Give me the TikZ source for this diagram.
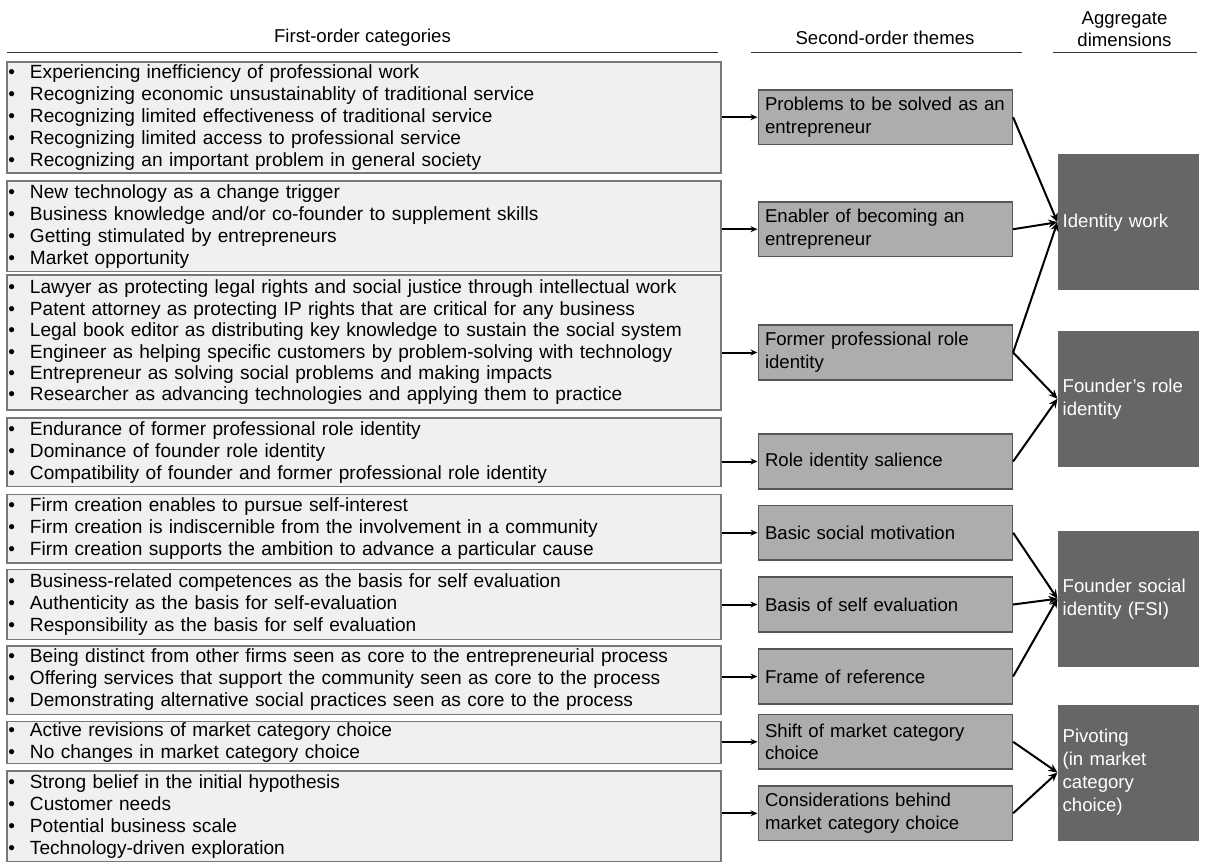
\documentclass[tikz,border=0pt]{standalone}
\usepackage{fontspec}
\setmainfont{Liberation Sans}
\usetikzlibrary{arrows.meta,positioning}
\definecolor{boxlight}{RGB}{240,240,240}
\definecolor{boxmid}{RGB}{173,173,173}
\definecolor{boxdark}{RGB}{102,102,102}
\definecolor{edgegray}{RGB}{120,120,120}
\definecolor{edgedark}{RGB}{85,85,85}
\newcommand{\itm}{\makebox[21.5pt][l]{\textbullet}}

\begin{document}
\begin{tikzpicture}[x=1pt,y=-1pt,
    firstbox/.style={draw=edgegray, line width=1.6pt, fill=boxlight, text width=711pt, inner xsep=1.5pt, inner ysep=0pt, align=left, font=\fontsize{19.1}{22}\selectfont},
    themebox/.style={draw=edgedark, line width=1.6pt, fill=boxmid, minimum height=54.5pt, text width=240.6pt, inner xsep=6.7pt, inner ysep=0pt, align=left, font=\fontsize{18.6}{22.7}\selectfont},
    dimbox/.style={fill=boxdark, text=white, minimum height=136pt, text width=131.3pt, inner xsep=5pt, inner ysep=0pt, align=left, font=\fontsize{18.6}{23}\selectfont},
    header/.style={align=center, font=\fontsize{18.6}{22}\selectfont},
    rule/.style={line width=1.6pt, draw=black!80},
    feed/.style={line width=2pt, -{Stealth[length=7pt,width=6pt]}},
    merge/.style={line width=2pt, -{Stealth[length=9pt,width=8pt]}}]
    \useasboundingbox (0,0) rectangle (1221,863);

    % Headers
    \node[header] (hfirst) at (362.5,38) {First-order categories};
    \node[header] (hsecond) at (885,38) {Second-order themes};
    \node[header] (hagg) at (1124.5,29) {Aggregate\\dimensions};
    \draw[rule] (7,52.5) -- (718,52.5);
    \draw[rule] (751,52.5) -- (1021.5,52.5);
    \draw[rule] (1053,52.5) -- (1197,52.5);

    % First-order categories
    \node[firstbox, minimum height=111pt] (fo1) at (364,117.2) {\itm Experiencing inefficiency of professional work\\ \itm Recognizing economic unsustainablity of traditional service\\ \itm Recognizing limited effectiveness of traditional service\\ \itm Recognizing limited access to professional service\\ \itm Recognizing an important problem in general society};
    \node[firstbox, minimum height=90.7pt] (fo2) at (364,226.3) {\itm New technology as a change trigger\\ \itm Business knowledge and/or co-founder to supplement skills\\ \itm Getting stimulated by entrepreneurs\\ \itm Market opportunity};
    \node[firstbox, minimum height=135pt, font=\fontsize{19.1}{21.4}\selectfont] (fo3) at (364,342.5) {\itm Lawyer as protecting legal rights and social justice through intellectual work\\ \itm Patent attorney as protecting IP rights that are critical for any business\\ \itm Legal book editor as distributing key knowledge to sustain the social system\\ \itm Engineer as helping specific customers by problem-solving with technology\\ \itm Entrepreneur as solving social problems and making impacts\\ \itm Researcher as advancing technologies and applying them to practice};
    \node[firstbox, minimum height=68.7pt] (fo4) at (364,452.3) {\itm Endurance of former professional role identity\\ \itm Dominance of founder role identity\\ \itm Compatibility of founder and former professional role identity};
    \node[firstbox, minimum height=68.4pt] (fo5) at (364,528.5) {\itm Firm creation enables to pursue self-interest\\ \itm Firm creation is indiscernible from the involvement in a community\\ \itm Firm creation supports the ambition to advance a particular cause};
    \node[firstbox, minimum height=70pt] (fo6) at (364,604.3) {\itm Business-related competences as the basis for self evaluation\\ \itm Authenticity as the basis for self-evaluation\\ \itm Responsibility as the basis for self evaluation};
    \node[firstbox, minimum height=68.6pt] (fo7) at (364,680) {\itm Being distinct from other firms seen as core to the entrepreneurial process\\ \itm Offering services that support the community seen as core to the process\\ \itm Demonstrating alternative social practices seen as core to the process};
    \node[firstbox, minimum height=42pt] (fo8) at (364,742.3) {\itm Active revisions of market category choice\\ \itm No changes in market category choice};
    \node[firstbox, minimum height=90.7pt] (fo9) at (364,816.3) {\itm Strong belief in the initial hypothesis\\ \itm Customer needs\\ \itm Potential business scale\\ \itm Technology-driven exploration};

    % Second-order themes
    \node[themebox] (so1) at (885.3,117.2) {Problems to be solved as an\\entrepreneur};
    \node[themebox] (so2) at (885.3,229.2) {Enabler of becoming an\\entrepreneur};
    \node[themebox] (so3) at (885.3,352.5) {Former professional role\\identity};
    \node[themebox] (so4) at (885.3,461.5) {Role identity salience};
    \node[themebox] (so5) at (885.3,532.7) {Basic social motivation};
    \node[themebox] (so6) at (885.3,604.5) {Basis of self evaluation};
    \node[themebox] (so7) at (885.3,676.5) {Frame of reference};
    \node[themebox] (so8) at (885.3,741.8) {Shift of market category\\choice};
    \node[themebox] (so9) at (885.3,813.3) {Considerations behind\\market category choice};

    % Aggregate dimensions
    \node[dimbox] (ag1) at (1128.3,222.2) {Identity work};
    \node[dimbox] (ag2) at (1128.3,398.7) {Founder’s role\\identity};
    \node[dimbox] (ag3) at (1128.3,598.7) {Founder social\\identity (FSI)};
    \node[dimbox] (ag4) at (1128.3,772.5) {Pivoting\\(in market\\category\\choice)};

    % Arrows first -> second
    \foreach \i in {1,...,9}
        \draw[feed] (so\i.west -| fo\i.east) -- (so\i.west);

    % Arrows second -> aggregate
    \draw[merge] (so1.east) -- (ag1.west);
    \draw[merge] (so2.east) -- (ag1.west);
    \draw[merge] (so3.east) -- (ag1.west);
    \draw[merge] (so3.east) -- (ag2.west);
    \draw[merge] (so4.east) -- (ag2.west);
    \draw[merge] (so5.east) -- (ag3.west);
    \draw[merge] (so6.east) -- (ag3.west);
    \draw[merge] (so7.east) -- (ag3.west);
    \draw[merge] (so8.east) -- (ag4.west);
    \draw[merge] (so9.east) -- (ag4.west);
\end{tikzpicture}
\end{document}
